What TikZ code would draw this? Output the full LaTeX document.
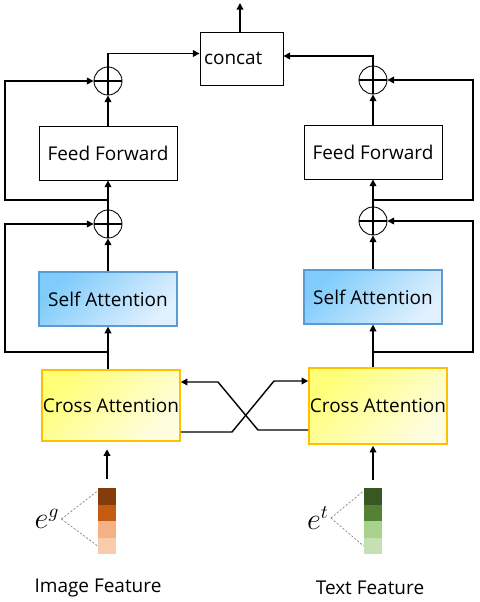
\documentclass[tikz,border=0pt]{standalone}
\usepackage{fontspec}
\setmainfont{Open Sans}
\usetikzlibrary{positioning,arrows.meta,calc}
\definecolor{SelfTop}{RGB}{127,203,251}
\definecolor{SelfBottom}{RGB}{224,240,254}
\definecolor{SelfEdge}{RGB}{91,155,213}
\definecolor{CrossTop}{RGB}{255,255,120}
\definecolor{CrossBottom}{RGB}{255,253,224}
\definecolor{CrossEdge}{RGB}{255,192,0}
\definecolor{ImgA}{RGB}{132,60,12}
\definecolor{ImgB}{RGB}{197,90,17}
\definecolor{ImgC}{RGB}{244,177,131}
\definecolor{ImgD}{RGB}{248,203,173}
\definecolor{TxtA}{RGB}{56,87,35}
\definecolor{TxtB}{RGB}{84,130,53}
\definecolor{TxtC}{RGB}{169,209,142}
\definecolor{TxtD}{RGB}{197,224,180}

\begin{document}
\begin{tikzpicture}[x=0.02cm, y=-0.02cm, every node/.style={font=\fontsize{10.8}{13}\selectfont}]
\tikzset{
  ffbox/.style={draw, line width=0.5pt, minimum width=2.76cm, minimum height=1.08cm, inner sep=0pt},
  selfbox/.style={draw=SelfEdge, line width=0.7pt, top color=SelfTop, bottom color=SelfBottom, shading angle=45, minimum width=2.76cm, minimum height=1.08cm, inner sep=0pt},
  crossbox/.style={draw=CrossEdge, line width=0.9pt, top color=CrossTop, bottom color=CrossBottom, shading angle=45, minimum width=2.76cm, inner sep=0pt},
  addnode/.style={draw, circle, line width=0.5pt, minimum size=0.56cm, inner sep=0pt,
    path picture={\draw[line width=1.3pt] (path picture bounding box.north) -- (path picture bounding box.south)
      (path picture bounding box.west) -- (path picture bounding box.east);}},
  cell/.style={minimum width=0.36cm, minimum height=0.33cm, inner sep=0pt},
  flow/.style={-{Triangle[length=3.8pt, width=3.8pt]}, line width=0.8pt},
  guide/.style={gray, line width=0.4pt, dash pattern=on 1.2pt off 1pt},
  embed/.style={inner sep=1pt, font=\fontsize{16}{18}\selectfont}
}
  \useasboundingbox (0,0) rectangle (480,602);
  % image branch
  \node[ffbox] (ff1) at (108,153) {Feed Forward};
  \node[selfbox] (sa1) at (108,299) {Self Attention};
  \node[crossbox, minimum height=1.42cm] (ca1) at (111,405.5) {Cross Attention};
  \node[addnode] (pl1) at (108,81) {};
  \node[addnode] (pl2) at (108,224) {};
  % text branch
  \node[ffbox] (ff2) at (373,152) {Feed Forward};
  \node[selfbox] (sa2) at (373,297) {Self Attention};
  \node[crossbox, minimum height=1.52cm] (ca2) at (378,406) {Cross Attention};
  \node[addnode] (pr1) at (373,80) {};
  \node[addnode] (pr2) at (373,221) {};
  % fusion
  \node[draw, line width=0.5pt, text width=1.5cm, align=left, inner xsep=0.08cm, minimum height=1.06cm] (cat) at (241.5,58.5) {concat};
  \coordinate (top) at (240,3);
  \coordinate (lx) at (5,0);
  \coordinate (rx) at (473,0);
  \coordinate (lsplit1) at (108,200);
  \coordinate (lsplit2) at (108,352);
  \coordinate (rsplit1) at (373,200);
  \coordinate (rsplit2) at (373,352);
  \coordinate (xa) at (258,430);
  \coordinate (xb) at (218,382);
  \coordinate (xc) at (232,432);
  \coordinate (xd) at (274,381);

  \draw[flow] (cat.north -| top) -- (top);
  \draw[flow] (pl1.north) |- ([yshift=0.1cm]cat.west);
  \draw[flow] (pr1.north) |- ([yshift=0.05cm]cat.east);
  \draw[flow] (ff1) -- (pl1);
  \draw[flow] (pl2) -- (ff1);
  \draw[flow] (sa1) -- (pl2);
  \draw[flow] (sa1.south |- ca1.north) -- (sa1.south);
  \draw[flow] (ff2) -- (pr1);
  \draw[flow] (pr2) -- (ff2);
  \draw[flow] (sa2) -- (pr2);
  \draw[flow] (sa2.south |- ca2.north) -- (sa2.south);
  % residual paths
  \draw[flow] (lsplit1) -| (lx |- pl1) -- (pl1.west);
  \draw[flow] (lsplit2) -| (lx |- pl2) -- (pl2.west);
  \draw[flow] (rsplit1) -| (rx |- pr1) -- (pr1.east);
  \draw[flow] (rsplit2) -| (rx |- pr2) -- (pr2.east);
  % cross exchange
  \draw[flow] (ca2.west |- xa) -- (xa) -- (xb) -- (ca1.east |- xb);
  \draw[flow] (ca1.east |- xc) -- (xc) -- (xd) -- (ca2.west |- xd);

  % feature vectors
  \foreach \c [count=\i] in {ImgA,ImgB,ImgC,ImgD}
    \node[cell, fill=\c] (g\i) at (107,{480+16.5*\i}) {};
  \foreach \c [count=\i] in {TxtA,TxtB,TxtC,TxtD}
    \node[cell, fill=\c] (t\i) at (373,{480+16.5*\i}) {};
  \draw[flow, shorten >=0.15cm] ([yshift=0.18cm]g1.north) -- (g1.north |- ca1.south);
  \draw[flow, shorten >=0.02cm] ([yshift=0.16cm]t1.north) -- (t1.north |- ca2.south);
  \node[embed] (eg) at (47,519) {$e^g$};
  \node[embed] (et) at (318,518) {$e^t$};
  \draw[guide] (eg.east) -- ([yshift=-0.06cm]g1.north west);
  \draw[guide] (eg.east) -- (g4.west);
  \draw[guide] (et.east) -- ([yshift=-0.06cm]t1.north west);
  \draw[guide] (et.east) -- (t4.west);
  \node (imgfeat) at (98,588) {Image Feature};
  \node (txtfeat) at (370,588) {Text Feature};
\end{tikzpicture}
\end{document}
